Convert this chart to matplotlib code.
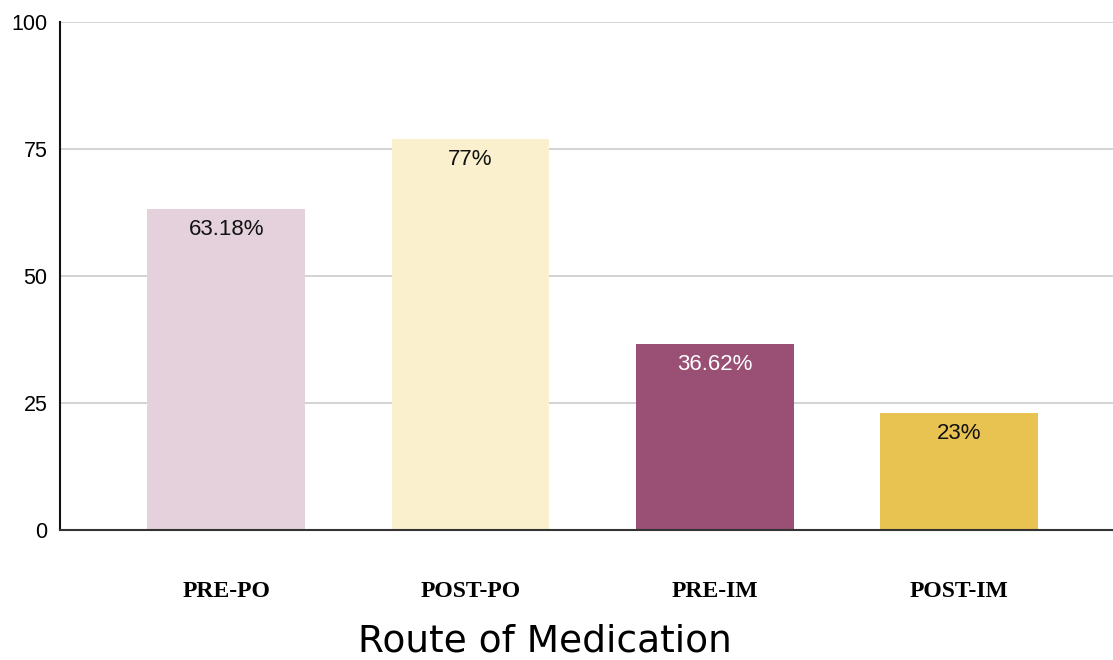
import matplotlib
matplotlib.use("Agg")
import matplotlib.pyplot as plt

# route categories and the share of doses given by each route (%)
routes = ["PRE-PO", "POST-PO", "PRE-IM", "POST-IM"]
shares = [63.18, 77, 36.62, 23]
share_labels = ["63.18%", "77%", "36.62%", "23%"]
bar_colors = ["#E4D1DC", "#FAF0CE", "#995074", "#E8C351"]
label_colors = ["#111111", "#111111", "#FFFFFF", "#111111"]
y_ticks = [0, 25, 50, 75, 100]

fig = plt.figure(figsize=(11.13, 6.6), dpi=100)
ax = fig.add_axes([60 / 1113, 130 / 660, 1 - 60 / 1113, 508 / 660])

x = list(range(len(routes)))
bars = ax.bar(x, shares, width=0.645, color=bar_colors, zorder=3)

for rect, txt, col in zip(bars, share_labels, label_colors):
    ax.annotate(txt, (rect.get_x() + rect.get_width() / 2, rect.get_height()),
                xytext=(0, -15), textcoords="offset points",
                ha="center", va="center", fontsize=16, color=col,
                family="Liberation Sans", zorder=4)

ax.set_xlim(-0.68, 3.63)
ax.set_ylim(0, 100)
ax.set_yticks(y_ticks)
ax.set_yticklabels([str(t) for t in y_ticks], family="Liberation Sans", fontsize=15.5)
ax.tick_params(axis="y", length=0, pad=9)

ax.set_xticks(x)
ax.set_xticklabels(routes, family="Liberation Serif", fontweight="bold", fontsize=17)
ax.tick_params(axis="x", length=0, pad=37)
ax.set_xlabel("Route of Medication", fontsize=27)
ax.xaxis.set_label_coords(0.46, -0.185)

ax.grid(axis="y", color="#cccccc", linewidth=1.2, zorder=0)
for side in ["top", "right"]:
    ax.spines[side].set_visible(False)
ax.spines["left"].set_color("#111111")
ax.spines["left"].set_linewidth(1.5)
ax.spines["bottom"].set_color("#333333")
ax.spines["bottom"].set_linewidth(1.5)
ax.spines["bottom"].set_zorder(5)

fig.savefig("out.png", dpi=100)
